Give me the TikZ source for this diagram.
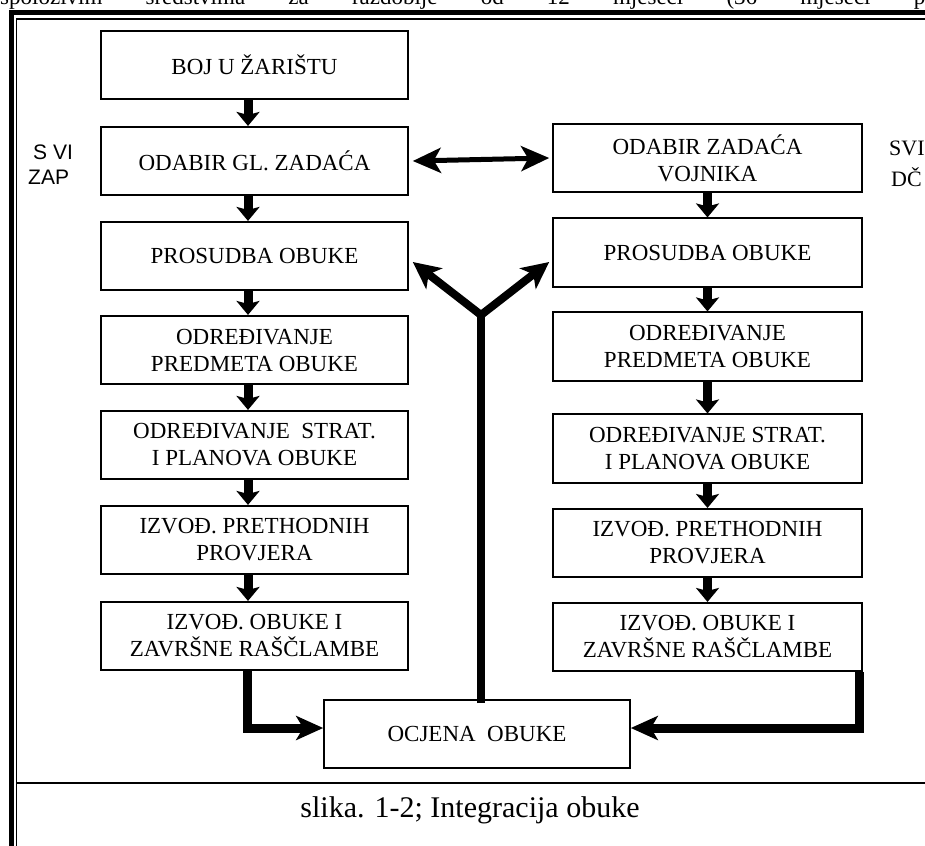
\documentclass[tikz,border=0pt]{standalone}
\usepackage{fontspec}
\setmainfont{Liberation Serif}
\newfontfamily\sansf{Liberation Sans}
\usetikzlibrary{arrows.meta,calc}
\begin{document}
\begin{tikzpicture}[x=1pt,y=-1pt,
  box/.style={draw, line width=1.6pt, minimum width=307pt, minimum height=68.5pt, align=center, font=\fontsize{23}{27}\selectfont, inner sep=0pt},
  rbox/.style={box, minimum width=309pt},
  varrow/.style={line width=9pt, -{Stealth[length=14pt,width=23pt,inset=3pt]}},
  darrow/.style={line width=5pt, {Stealth[length=28pt,width=25pt,inset=7pt]}-{Stealth[length=28pt,width=25pt,inset=7pt]}},
  yarrow/.style={line width=8pt, line join=miter, {Stealth[length=27pt,width=26pt,inset=7pt]}-{Stealth[length=27pt,width=26pt,inset=7pt]}},
  earrow/.style={line width=9pt, line join=miter, -{Stealth[length=27pt,width=24pt,inset=7pt]}},
  lbl/.style={inner sep=0pt, anchor=west},
]
\useasboundingbox (0,0) rectangle (925,845);
\clip (0,0) rectangle (925,845);

% partially visible line of text above the frame
\node[anchor=base west, inner sep=0pt, font=\fontsize{23}{27}\selectfont] (toptext) at (0,5)
  {\makebox[925pt][s]{spoloživim sredstvima za razdoblje od 12 mjeseci (36 mjeseci p}};

% frame
\draw[line width=5pt, line join=miter] (11,870) -- (11,13) -- (950,13);
\draw[line width=1.5pt, line join=miter] (16.5,870) -- (16.5,19) -- (950,19);
\draw[line width=1.5pt] (16.5,783) -- (950,783);

% left column
\node[box] (b1) at (254.5,65) {BOJ U ŽARIŠTU};
\node[box] (b2) at (254.5,161) {ODABIR GL. ZADAĆA};
\node[box] (b3) at (254.5,256) {PROSUDBA OBUKE};
\node[box] (b4) at (254.5,350) {ODREĐIVANJE\\PREDMETA OBUKE};
\node[box] (b5) at (254.5,445) {ODREĐIVANJE~~STRAT.\\I PLANOVA OBUKE};
\node[box] (b6) at (254.5,540) {IZVOĐ. PRETHODNIH\\PROVJERA};
\node[box] (b7) at (254.5,636) {IZVOĐ. OBUKE I\\ZAVRŠNE RAŠČLAMBE};

% right column
\node[rbox] (r1) at (707.5,158) {ODABIR ZADAĆA\\VOJNIKA};
\node[rbox] (r2) at (707.5,252.5) {PROSUDBA OBUKE};
\node[rbox] (r3) at (707.5,346.5) {ODREĐIVANJE\\PREDMETA OBUKE};
\node[rbox] (r4) at (707.5,448.5) {ODREĐIVANJE STRAT.\\I PLANOVA OBUKE};
\node[rbox] (r5) at (707.5,543) {IZVOĐ. PRETHODNIH\\PROVJERA};
\node[rbox] (r6) at (707.5,637) {IZVOĐ. OBUKE I\\ZAVRŠNE RAŠČLAMBE};

% bottom box
\node[box, minimum width=306pt, minimum height=68pt] (oc) at (477,734) {OCJENA~~OBUKE};

% side labels
\node[lbl, font=\sansf\fontsize{21}{25}\selectfont] (la) at (33,152) {S VI};
\node[lbl, font=\sansf\fontsize{21}{25}\selectfont] (lb) at (28,177) {ZAP};
\node[lbl, font=\fontsize{22}{26}\selectfont] (lc) at (889,148) {SVI};
\node[lbl, font=\fontsize{22}{26}\selectfont] (ld) at (891,177) {DČ};

% caption
\node[font=\fontsize{30}{34}\selectfont, inner sep=0pt] (cap) at (470,810) {slika. 1-2; Integracija obuke};

% vertical arrows left
\foreach \a/\b in {b1/b2,b2/b3,b3/b4,b4/b5,b5/b6,b6/b7}
  \draw[varrow] ([xshift=-6.5pt]\a.south) -- ([xshift=-6.5pt]\b.north);
% vertical arrows right
\foreach \a/\b in {r1/r2,r2/r3,r3/r4,r4/r5,r5/r6}
  \draw[varrow] (\a.south) -- (\b.north);

% double arrow
\draw[darrow] ([xshift=4pt]b2.east) -- ([xshift=-3pt]r1.west);

% Y arrow
\coordinate (yj) at (481,315);
\coordinate (yl) at ($(b3.east)+(4,6)$);
\coordinate (yr) at ($(r2.west)+(-3,9.5)$);
\draw[line width=8pt] ([xshift=4pt,yshift=-4pt]oc.north) -- (yj);
\draw[yarrow] (yl) -- (yj) -- (yr);

% elbow arrows into bottom box
\draw[earrow] ([xshift=-7.5pt]b7.south) |- ([yshift=6pt]oc.west);
\draw[earrow] ([xshift=152pt]r6.south) |- ([yshift=6pt]oc.east);
\end{tikzpicture}
\end{document}
